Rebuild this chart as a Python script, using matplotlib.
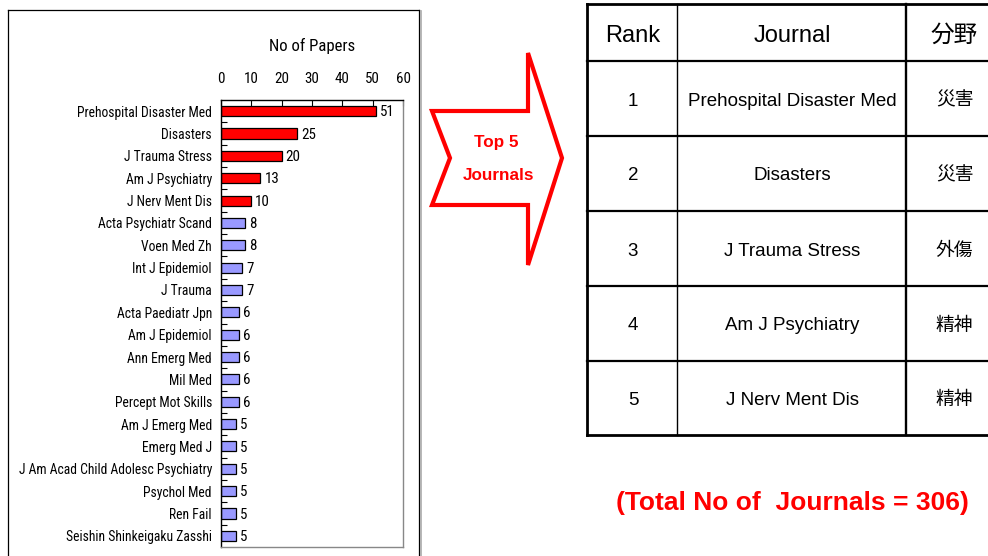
import matplotlib
matplotlib.use('Agg')
import matplotlib.pyplot as plt
from matplotlib import font_manager
from matplotlib.patches import Polygon
from matplotlib.lines import Line2D

# ---------------- data ----------------
journals = [
    "Prehospital Disaster Med", "Disasters", "J Trauma Stress", "Am J Psychiatry",
    "J Nerv Ment Dis", "Acta Psychiatr Scand", "Voen Med Zh", "Int J Epidemiol",
    "J Trauma", "Acta Paediatr Jpn", "Am J Epidemiol", "Ann Emerg Med", "Mil Med",
    "Percept Mot Skills", "Am J Emerg Med", "Emerg Med J",
    "J Am Acad Child Adolesc Psychiatry", "Psychol Med", "Ren Fail",
    "Seishin Shinkeigaku Zasshi",
]
papers = [51, 25, 20, 13, 10, 8, 8, 7, 7, 6, 6, 6, 6, 6, 5, 5, 5, 5, 5, 5]
n_top = 5
x_ticks = [0, 10, 20, 30, 40, 50, 60]
axis_title = "No of Papers"

headers = ["Rank", "Journal", "分野"]
ranks = ["1", "2", "3", "4", "5"]
top_journals = journals[:n_top]
fields = ["災害", "災害", "外傷", "精神", "精神"]

arrow_lines = ["Top 5", "Journals"]
total_text = "(Total No of  Journals = 306)"

top_color = "#FF0000"
other_color = "#9999FF"

# ---------------- fonts ----------------
names = {f.name for f in font_manager.fontManager.ttflist}
narrow = "Liberation Sans"
for cand in ["Roboto Condensed", "PT Sans Narrow", "Archivo Narrow", "Liberation Sans Narrow"]:
    if cand in names:
        narrow = cand
        break
sans = ["Liberation Sans", "Noto Sans CJK JP", "DejaVu Sans"]
plt.rcParams['font.family'] = sans

W, H = 988, 556
fig = plt.figure(figsize=(W / 100, H / 100), dpi=100)
renderer = fig.canvas.get_renderer()


def fx(x):
    return x / W


def fy(y):
    return 1 - y / H


def fit_size(text, family, target_px, base=10.0):
    t = fig.text(0, 0, text, family=family, fontsize=base)
    w = t.get_window_extent(renderer=renderer).width
    t.remove()
    return base * target_px / w


label_fs = fit_size("J Am Acad Child Adolesc Psychiatry", narrow, 194)
title_fs = fit_size(axis_title, narrow, 86)
num_fs = label_fs * 1.1

# ---------------- bar chart ----------------
ax = fig.add_axes([fx(221), fy(547), (403 - 221) / W, (547 - 100) / H])
ypos = list(range(len(journals)))
colors = [top_color if i < n_top else other_color for i in ypos]
ax.barh(ypos, papers, height=0.45, color=colors, edgecolor='black', linewidth=0.9)
ax.set_xlim(x_ticks[0], x_ticks[-1])
ax.set_ylim(len(journals) - 0.5, -0.5)

ax.xaxis.tick_top()
ax.set_xticks(x_ticks)
ax.set_xticklabels([str(t) for t in x_ticks], family=narrow, fontsize=num_fs)
ax.tick_params(axis='x', direction='in', length=4, width=0.8, pad=10.0, top=True, bottom=False)

ax.set_yticks(ypos)
ax.set_yticklabels(journals, family=narrow, fontsize=label_fs)
ax.tick_params(axis='y', which='major', length=0, pad=6.5)
ax.set_yticks([i + 0.5 for i in ypos[:-1]], minor=True)
ax.tick_params(axis='y', which='minor', direction='in', length=4, width=0.8)

for s in ['top', 'left']:
    ax.spines[s].set_color('black')
    ax.spines[s].set_linewidth(1.0)
for s in ['right', 'bottom']:
    ax.spines[s].set_color('#888888')
    ax.spines[s].set_linewidth(1.0)

for i, v in enumerate(papers):
    ax.text(v + 1.3, i + 0.05, str(v), va='center', ha='left', family=narrow, fontsize=num_fs)

fig.text(fx(312), fy(46), axis_title, ha='center', va='center', family=narrow, fontsize=title_fs)

# outer frame of chart
frame = [((8, 10), (8, 570)), ((8, 10), (419, 10)), ((419, 10), (419, 570))]
for (x0, y0), (x1, y1) in frame:
    fig.add_artist(Line2D([fx(x0), fx(x1)], [fy(y0), fy(y1)], color='black', lw=0.9,
                          transform=fig.transFigure))
fig.add_artist(Line2D([fx(421), fx(421)], [fy(11), fy(570)], color='#aaaaaa', lw=1.2,
                      transform=fig.transFigure))

# ---------------- arrow ----------------
arrow_px = [(432, 111), (528, 111), (528, 53), (562, 158), (528, 265),
            (528, 205), (432, 205), (450, 158)]
arrow = Polygon([(fx(x), fy(y)) for x, y in arrow_px], closed=True, facecolor='white',
                edgecolor='#FF0000', lw=3.0, joinstyle='miter', transform=fig.transFigure)
fig.add_artist(arrow)
fig.text(fx(496), fy(142), arrow_lines[0], ha='center', va='center', color='#FF0000',
         fontsize=12.3, fontweight='bold', family='Liberation Sans')
fig.text(fx(499), fy(175), arrow_lines[1], ha='center', va='center', color='#FF0000',
         fontsize=12.3, fontweight='bold', family='Liberation Sans')

# ---------------- table ----------------
row_b = [4, 61, 136, 211, 286, 361, 435]
col_b = [587, 677, 906, 1003]

for j, y in enumerate(row_b):
    lw = 2.0 if j in (0, len(row_b) - 1) else 1.6
    fig.add_artist(Line2D([fx(col_b[0]), fx(col_b[-1])], [fy(y), fy(y)], color='black',
                          lw=lw, transform=fig.transFigure, solid_capstyle='projecting'))
v_lw = [2.0, 1.0, 1.7, 2.0]
for k, x in enumerate(col_b):
    fig.add_artist(Line2D([fx(x), fx(x)], [fy(row_b[0]), fy(row_b[-1])], color='black',
                          lw=v_lw[k], transform=fig.transFigure, solid_capstyle='projecting'))

cx = [(col_b[k] + col_b[k + 1]) / 2 for k in range(3)]
hy = (row_b[0] + row_b[1]) / 2 + 3
for k, h in enumerate(headers):
    fig.text(fx(cx[k] + (1 if k < 2 else 0)), fy(hy), h, ha='center', va='center',
             fontsize=17, family=sans)

for r in range(n_top):
    yc = (row_b[r + 1] + row_b[r + 2]) / 2 + 2.5
    cells = [ranks[r], top_journals[r], fields[r]]
    for k, c in enumerate(cells):
        fig.text(fx(cx[k] + (1 if k < 2 else 0)), fy(yc), c, ha='center', va='center',
                 fontsize=13.5, family=sans)

fig.text(fx(792), fy(503), total_text, ha='center', va='center', color='#FF0000',
         fontsize=19, fontweight='bold', family='Liberation Sans')

fig.savefig('out.png', dpi=100)
